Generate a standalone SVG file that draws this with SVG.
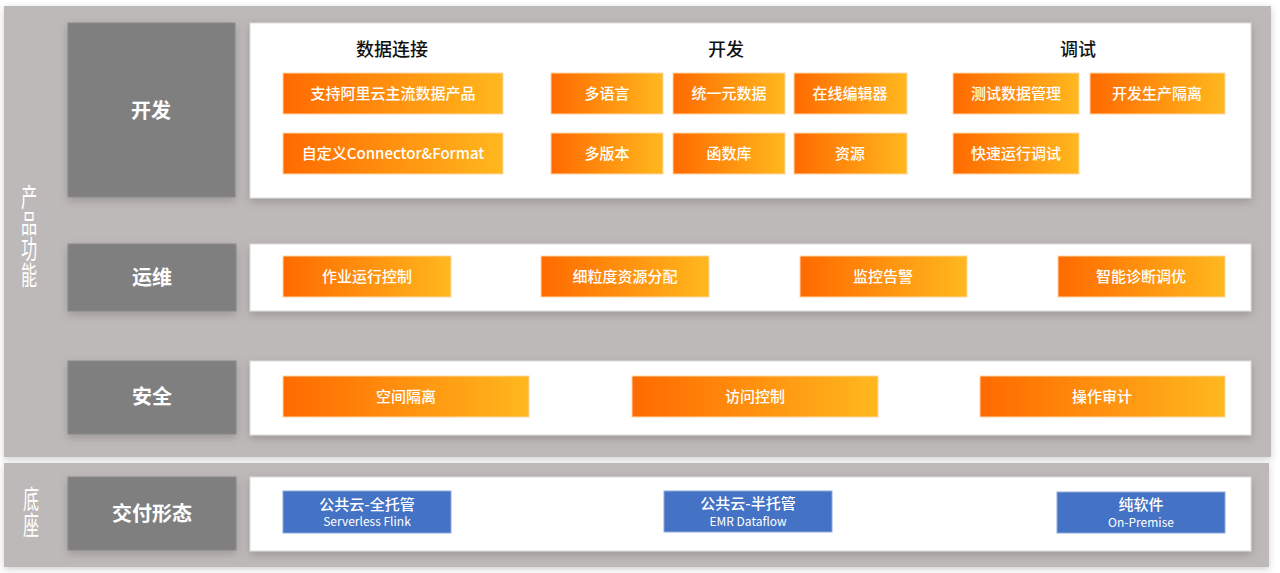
<svg xmlns="http://www.w3.org/2000/svg" width="1280" height="573" viewBox="0 0 1280 573">
<defs>
<linearGradient id="og" x1="0" y1="0" x2="1" y2="0">
<stop offset="0" stop-color="#ff6a00"/>
<stop offset="1" stop-color="#ffb81e"/>
</linearGradient>
<filter id="sh" x="-5%" y="-20%" width="110%" height="150%">
<feDropShadow dx="0" dy="3" stdDeviation="4" flood-color="#5a5250" flood-opacity="0.35"/>
</filter>
<filter id="sh2" x="-5%" y="-10%" width="110%" height="130%">
<feDropShadow dx="0" dy="2" stdDeviation="3" flood-color="#3a3a3a" flood-opacity="0.25"/>
</filter>
</defs>
<style>
.panel{fill:#bdb9b8}
.dark{fill:#7f7f7f;stroke:#8a8a8a;stroke-width:1}
.white{fill:#ffffff;stroke:#dcdcdc;stroke-width:1}
.ob{fill:url(#og);stroke:#ffd7a6;stroke-width:1}
.bb{fill:#4472c4;stroke:#8fa9dc;stroke-width:1}
text{font-family:"Noto Sans CJK SC","Noto Sans",sans-serif}
.dl{fill:#ffffff;font-size:20px;font-weight:700;text-anchor:middle}
.hd{fill:#111111;font-size:18px;font-weight:500;text-anchor:middle}
.ol{fill:#ffffff;font-size:15px;font-weight:500;text-anchor:middle}
.bl{fill:#ffffff;font-size:15px;font-weight:500;text-anchor:middle}
.bs{font-size:12px;font-weight:400}
.vt{fill:#ffffff;font-size:26px;font-weight:400;writing-mode:tb;text-anchor:start}
</style>
<rect width="1280" height="573" fill="#ffffff"/>

<g id="panel-product">
<rect class="panel" x="4" y="6" width="1267" height="451" filter="url(#sh2)"/>
<g transform="translate(29,0) scale(0.62,1)">
<text class="vt" x="0" y="184">产品功能</text>
</g>
</g>

<g id="panel-base">
<rect class="panel" x="4" y="463" width="1265" height="104" filter="url(#sh2)"/>
<g transform="translate(31,0) scale(0.62,1)">
<text class="vt" x="0" y="486">底座</text>
</g>
</g>

<g id="row-dev">
<rect class="dark" x="68" y="23" width="167" height="174" filter="url(#sh)"/>
<text class="dl" x="151" y="118">开发</text>
<rect class="white" x="250" y="23" width="1001" height="175" filter="url(#sh)"/>
<text class="hd" x="392" y="56">数据连接</text>
<text class="hd" x="726" y="56">开发</text>
<text class="hd" x="1078" y="56">调试</text>
</g>

<g id="n-aliyun"><rect class="ob" x="283" y="73" width="220" height="41"/><text class="ol" x="393" y="99">支持阿里云主流数据产品</text></g>
<g id="n-connector"><rect class="ob" x="283" y="133" width="220" height="41"/><text class="ol" x="393" y="159">自定义Connector&amp;Format</text></g>
<g id="n-lang"><rect class="ob" x="551" y="73" width="112" height="41"/><text class="ol" x="607" y="99">多语言</text></g>
<g id="n-meta"><rect class="ob" x="673" y="73" width="112" height="41"/><text class="ol" x="729" y="99">统一元数据</text></g>
<g id="n-editor"><rect class="ob" x="794" y="73" width="113" height="41"/><text class="ol" x="850" y="99">在线编辑器</text></g>
<g id="n-version"><rect class="ob" x="551" y="133" width="112" height="41"/><text class="ol" x="607" y="159">多版本</text></g>
<g id="n-func"><rect class="ob" x="673" y="133" width="112" height="41"/><text class="ol" x="729" y="159">函数库</text></g>
<g id="n-res"><rect class="ob" x="794" y="133" width="113" height="41"/><text class="ol" x="850" y="159">资源</text></g>
<g id="n-testdata"><rect class="ob" x="953" y="73" width="126" height="41"/><text class="ol" x="1016" y="99">测试数据管理</text></g>
<g id="n-isolate"><rect class="ob" x="1090" y="73" width="135" height="41"/><text class="ol" x="1157" y="99">开发生产隔离</text></g>
<g id="n-quick"><rect class="ob" x="953" y="133" width="126" height="41"/><text class="ol" x="1016" y="159">快速运行调试</text></g>

<g id="row-ops">
<rect class="dark" x="68" y="244" width="168" height="67" filter="url(#sh)"/>
<text class="dl" x="152" y="285">运维</text>
<rect class="white" x="250" y="244" width="1001" height="67" filter="url(#sh)"/>
</g>
<g id="n-jobctl"><rect class="ob" x="283" y="256" width="168" height="41"/><text class="ol" x="367" y="282">作业运行控制</text></g>
<g id="n-alloc"><rect class="ob" x="541" y="256" width="168" height="41"/><text class="ol" x="625" y="282">细粒度资源分配</text></g>
<g id="n-monitor"><rect class="ob" x="800" y="256" width="167" height="41"/><text class="ol" x="883" y="282">监控告警</text></g>
<g id="n-diag"><rect class="ob" x="1058" y="256" width="167" height="41"/><text class="ol" x="1141" y="282">智能诊断调优</text></g>

<g id="row-sec">
<rect class="dark" x="68" y="361" width="168" height="73" filter="url(#sh)"/>
<text class="dl" x="152" y="404">安全</text>
<rect class="white" x="250" y="361" width="1001" height="74" filter="url(#sh)"/>
</g>
<g id="n-space"><rect class="ob" x="283" y="376" width="246" height="41"/><text class="ol" x="406" y="402">空间隔离</text></g>
<g id="n-access"><rect class="ob" x="632" y="376" width="246" height="41"/><text class="ol" x="755" y="402">访问控制</text></g>
<g id="n-audit"><rect class="ob" x="980" y="376" width="245" height="41"/><text class="ol" x="1102" y="402">操作审计</text></g>

<g id="row-deliver">
<rect class="dark" x="68" y="477" width="168" height="73" filter="url(#sh)"/>
<text class="dl" x="152" y="521">交付形态</text>
<rect class="white" x="250" y="477" width="1001" height="74" filter="url(#sh)"/>
</g>
<g id="n-full"><rect class="bb" x="283" y="491" width="168" height="42"/><text class="bl" x="367" y="510">公共云-全托管<tspan class="bs" x="367" y="526">Serverless Flink</tspan></text></g>
<g id="n-semi"><rect class="bb" x="664" y="491" width="168" height="41"/><text class="bl" x="748" y="509">公共云-半托管<tspan class="bs" x="748" y="526">EMR Dataflow</tspan></text></g>
<g id="n-onprem"><rect class="bb" x="1057" y="492" width="168" height="41"/><text class="bl" x="1141" y="510">纯软件<tspan class="bs" x="1141" y="527">On-Premise</tspan></text></g>

<g id="connectors"></g>
</svg>
